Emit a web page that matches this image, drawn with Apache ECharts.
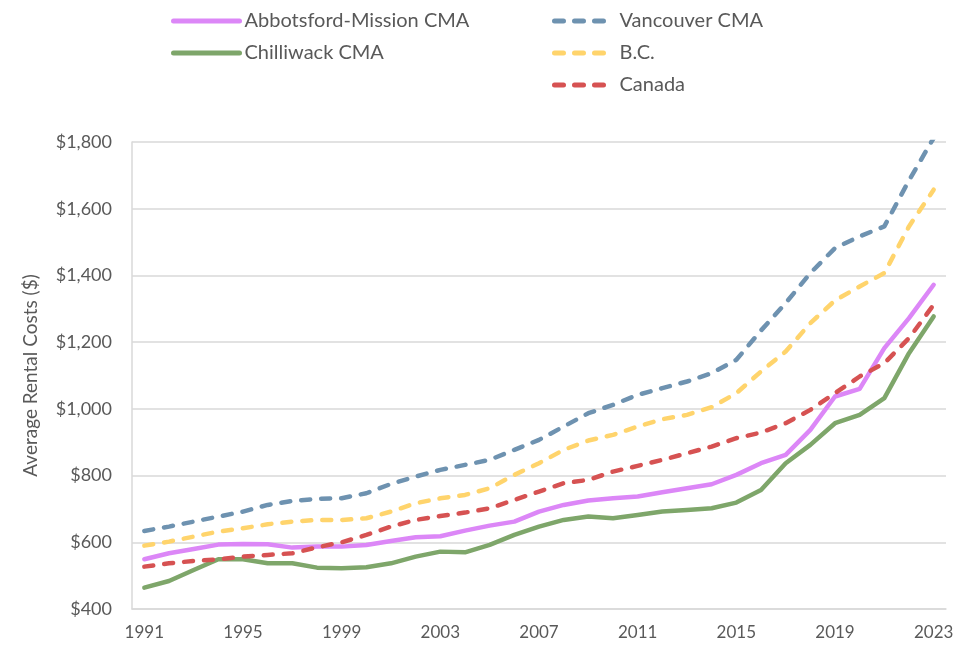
<!DOCTYPE html>
<html>
<head>
<meta charset="utf-8">
<script src="https://cdn.jsdelivr.net/npm/echarts@6/dist/echarts.min.js"></script>
<style>
  html, body { margin: 0; padding: 0; background: #fff; }
  #main { width: 972px; height: 646px; }
</style>
</head>
<body>
<div id="main"></div>
<script>
var years = []
for (var y = 1991; y <= 2023; y++) {
  years.push(String(y))
}

// average rents
var abbotsford = [549, 567, 580, 593, 595, 594, 584, 587, 587, 592, 604, 615, 618, 635, 650, 662, 692, 712, 725, 732, 737, 750, 762, 774, 802, 837, 862, 937, 1037, 1060, 1182, 1272, 1372]
var chilliwack = [464, 484, 517, 549, 549, 537, 537, 524, 522, 525, 537, 557, 572, 570, 592, 622, 647, 667, 677, 672, 682, 692, 697, 702, 719, 757, 837, 892, 957, 982, 1032, 1167, 1277]
var vancouver = [634, 647, 662, 677, 692, 712, 724, 730, 732, 747, 775, 797, 817, 832, 847, 877, 907, 947, 987, 1012, 1042, 1062, 1082, 1107, 1147, 1235, 1317, 1407, 1482, 1517, 1547, 1685, 1812]
var bc = [590, 602, 617, 632, 642, 654, 662, 667, 667, 672, 692, 717, 732, 742, 762, 802, 837, 877, 905, 922, 947, 969, 982, 1005, 1047, 1112, 1172, 1257, 1325, 1367, 1407, 1547, 1657]
var canada = [527, 537, 544, 549, 557, 562, 567, 585, 600, 622, 647, 667, 679, 689, 702, 727, 752, 777, 787, 812, 829, 847, 867, 887, 912, 929, 957, 997, 1047, 1097, 1137, 1212, 1312]

var font = 'Lato'
var textColor = '#595959'

function solid(name, color, data) {
  return {
    name: name,
    type: 'line',
    symbol: 'circle',
    showSymbol: false,
    data: data,
    lineStyle: { color: color, width: 4.5, cap: 'round', join: 'round' },
    itemStyle: { color: color }
  }
}
function dashed(name, color, data) {
  return {
    name: name,
    type: 'line',
    symbol: 'circle',
    showSymbol: false,
    data: data,
    lineStyle: { color: color, width: 4.5, type: [9, 11], cap: 'round', join: 'round' },
    itemStyle: { color: color }
  }
}

var legendText = { fontSize: 20, color: textColor, fontFamily: font }

var chart = echarts.init(document.getElementById('main'))
var option = {
  animation: false,
  textStyle: { fontFamily: font },
  legend: [
    {
      data: ['Abbotsford-Mission CMA', 'Chilliwack CMA'],
      orient: 'vertical',
      left: 166,
      top: 6,
      itemWidth: 66,
      itemHeight: 14,
      itemGap: 12,
      itemStyle: { opacity: 0 },
      lineStyle: { width: 5 },
      textStyle: legendText
    },
    {
      data: ['Vancouver CMA', 'B.C.', 'Canada'],
      orient: 'vertical',
      left: 547,
      top: 6,
      itemWidth: 60,
      itemHeight: 14,
      itemGap: 12,
      itemStyle: { opacity: 0 },
      lineStyle: { width: 5 },
      textStyle: legendText
    }
  ],
  grid: { left: 132, right: 26, top: 142, bottom: 37 },
  xAxis: {
    type: 'category',
    data: years,
    boundaryGap: true,
    axisLine: { lineStyle: { color: '#d9d9d9', width: 1.5 } },
    axisTick: { show: false },
    axisLabel: { interval: 3, color: textColor, fontSize: 17, margin: 15 }
  },
  yAxis: {
    type: 'value',
    min: 400,
    max: 1800,
    interval: 200,
    name: 'Average Rental Costs ($)',
    nameLocation: 'middle',
    nameGap: 92,
    nameTextStyle: { color: textColor, fontSize: 19 },
    axisLine: { show: true, lineStyle: { color: '#d9d9d9', width: 1.5 } },
    axisTick: { show: false },
    splitLine: { lineStyle: { color: '#d9d9d9', width: 1.5 } },
    axisLabel: {
      color: textColor,
      fontSize: 18,
      margin: 20,
      formatter: function (v) { return '$' + v.toLocaleString('en-US') }
    }
  },
  series: [
    solid('Abbotsford-Mission CMA', '#dc87f7', abbotsford),
    solid('Chilliwack CMA', '#7ea66a', chilliwack),
    dashed('Vancouver CMA', '#6e92b0', vancouver),
    dashed('B.C.', '#ffd46c', bc),
    dashed('Canada', '#d65252', canada)
  ]
}
chart.setOption(option)
</script>
</body>
</html>
